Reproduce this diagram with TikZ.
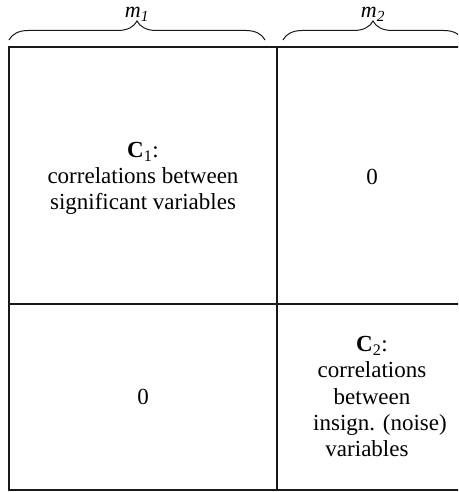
\documentclass[tikz,border=0pt]{standalone}
\usepackage{fontspec}
\setmainfont{Liberation Serif}
\usetikzlibrary{decorations.pathreplacing}
\tikzset{
    grid/.style={line width=1.3pt, black!90},
    brc/.style={decorate, decoration={brace, amplitude=19pt}, line width=1pt, black!90},
    cell/.style={align=center, inner sep=0pt, font=\fontsize{23}{26.3}\selectfont},
    dimlabel/.style={anchor=base, inner sep=0pt, font=\fontsize{22}{24}\selectfont\itshape}
}
\begin{document}
\begin{tikzpicture}[x=1pt, y=1pt]
    \clip (0,0) rectangle (458,492);
    % grid of the block matrix
    \coordinate (tl) at (9,445);
    \coordinate (bl) at (9,2);
    \draw[grid] (470,445) -- (tl) -- (bl) -- (470,2);
    \draw[grid] (277,445) -- (277,2);
    \draw[grid] (9,188) -- (470,188);
    % braces with sizes
    \draw[brc] (9,452) -- (265,452);
    \draw[brc] (283,452) -- (463,452);
    \node[dimlabel] (m1) at (137,474) {m\textsubscript{1}};
    \node[dimlabel] (m2) at (373,474) {m\textsubscript{2}};
    % cells
    \node[cell] (c1) at (143,313.5) {\textbf{C}\textsubscript{1}:\\correlations between\\significant variables};
    \node[cell] (z12) at (372,315.5) {0};
    \node[cell] (z21) at (143,95.5) {0};
    \node[cell] (c2) at (372,95.5) {\textbf{C}\textsubscript{2}:\\correlations\\between\\\hspace*{16pt}insign. (noise)\\variables\hspace*{10pt}};
\end{tikzpicture}
\end{document}
